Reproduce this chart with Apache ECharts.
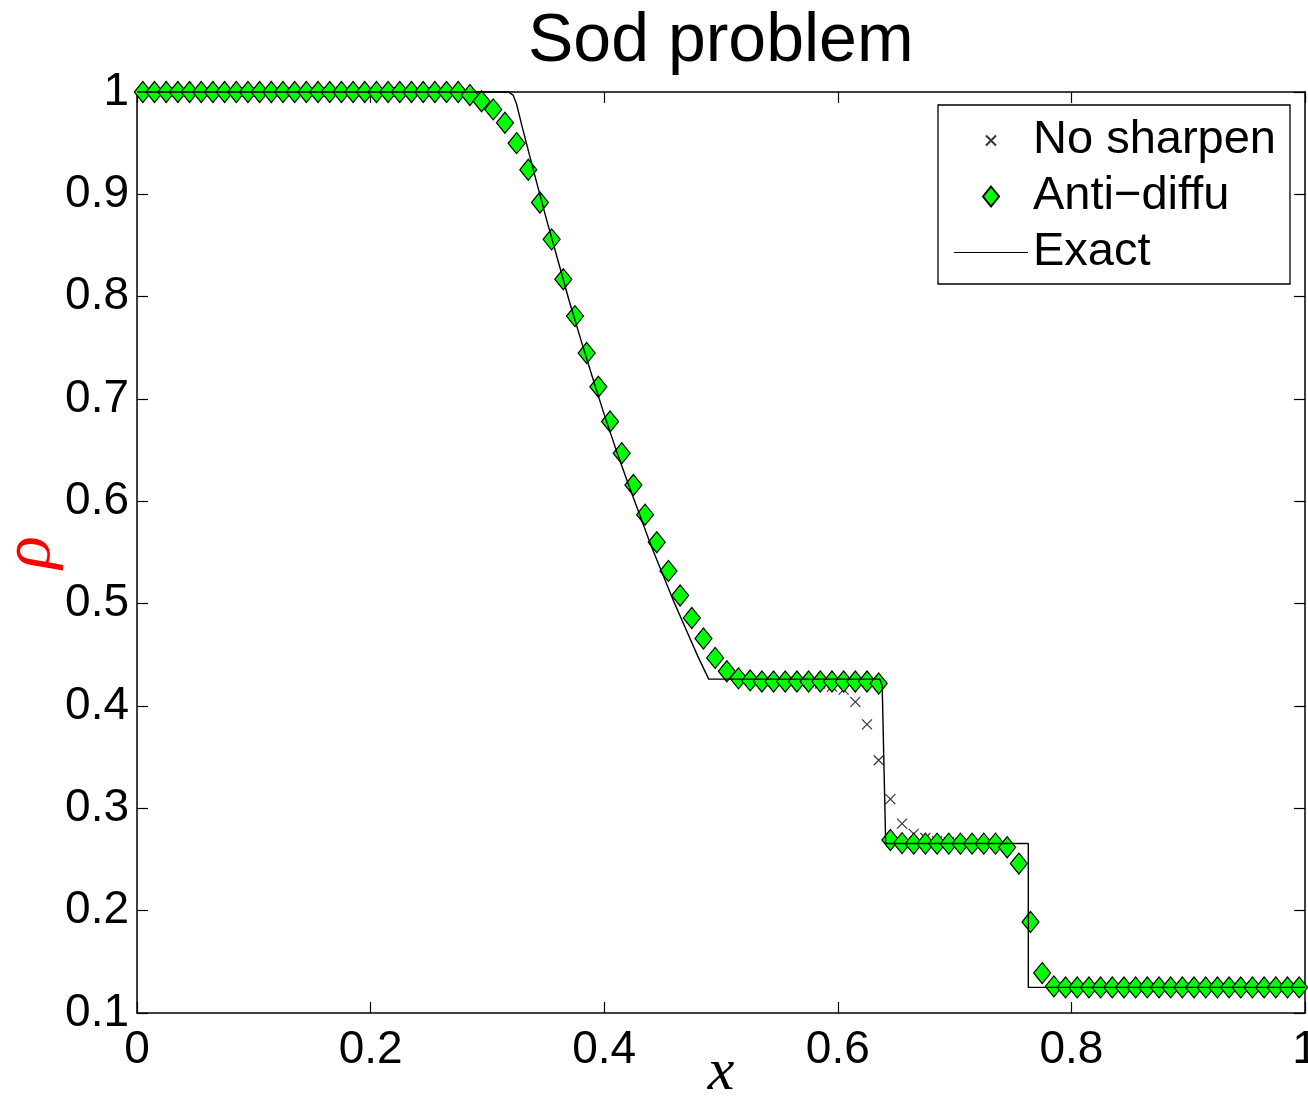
<!DOCTYPE html>
<html>
<head>
<meta charset="utf-8">
<script src="https://cdn.jsdelivr.net/npm/echarts@6/dist/echarts.min.js"></script>
<style>
  html, body { margin: 0; padding: 0; background: #fff; }
  #chart { width: 1308px; height: 1107px; }
</style>
</head>
<body>
<div id="chart"></div>
<script>
/* Sod problem — density profiles */

const FONT = "'Liberation Sans', Arial, Helvetica, sans-serif";

// cell centres
const xCells = [
  0.005, 0.015, 0.025, 0.035, 0.045, 0.055, 0.065, 0.075, 0.085, 0.095,
  0.105, 0.115, 0.125, 0.135, 0.145, 0.155, 0.165, 0.175, 0.185, 0.195,
  0.205, 0.215, 0.225, 0.235, 0.245, 0.255, 0.265, 0.275, 0.285, 0.295,
  0.305, 0.315, 0.325, 0.335, 0.345, 0.355, 0.365, 0.375, 0.385, 0.395,
  0.405, 0.415, 0.425, 0.435, 0.445, 0.455, 0.465, 0.475, 0.485, 0.495,
  0.505, 0.515, 0.525, 0.535, 0.545, 0.555, 0.565, 0.575, 0.585, 0.595,
  0.605, 0.615, 0.625, 0.635, 0.645, 0.655, 0.665, 0.675, 0.685, 0.695,
  0.705, 0.715, 0.725, 0.735, 0.745, 0.755, 0.765, 0.775, 0.785, 0.795,
  0.805, 0.815, 0.825, 0.835, 0.845, 0.855, 0.865, 0.875, 0.885, 0.895,
  0.905, 0.915, 0.925, 0.935, 0.945, 0.955, 0.965, 0.975, 0.985, 0.995
];

const noSharpen = [
  1, 1, 1, 1, 1, 1, 1, 1, 1, 1,
  1, 1, 1, 1, 1, 1, 1, 1, 1, 1,
  1, 1, 1, 1, 1, 1, 1, 1, 0.997, 0.991,
  0.983, 0.970, 0.950, 0.924, 0.892, 0.856, 0.817, 0.781, 0.745, 0.712,
  0.678, 0.647, 0.616, 0.587, 0.560, 0.532, 0.508, 0.486, 0.466, 0.447,
  0.434, 0.427, 0.425, 0.424, 0.424, 0.424, 0.424, 0.4235, 0.422, 0.419,
  0.416, 0.404, 0.382, 0.347, 0.309, 0.285, 0.275, 0.271, 0.268, 0.267,
  0.266, 0.2655, 0.2655, 0.2655, 0.262, 0.246, 0.189, 0.139, 0.126, 0.125,
  0.125, 0.125, 0.125, 0.125, 0.125, 0.125, 0.125, 0.125, 0.125, 0.125,
  0.125, 0.125, 0.125, 0.125, 0.125, 0.125, 0.125, 0.125, 0.125, 0.125
];

const antiDiffu = [
  1, 1, 1, 1, 1, 1, 1, 1, 1, 1,
  1, 1, 1, 1, 1, 1, 1, 1, 1, 1,
  1, 1, 1, 1, 1, 1, 1, 1, 0.997, 0.991,
  0.983, 0.970, 0.950, 0.924, 0.892, 0.856, 0.817, 0.781, 0.745, 0.712,
  0.678, 0.647, 0.616, 0.587, 0.560, 0.532, 0.508, 0.486, 0.466, 0.447,
  0.434, 0.427, 0.425, 0.424, 0.424, 0.424, 0.424, 0.424, 0.424, 0.424,
  0.424, 0.424, 0.424, 0.422, 0.269, 0.266, 0.2655, 0.2655, 0.2655, 0.2655,
  0.2655, 0.2655, 0.2655, 0.2655, 0.262, 0.246, 0.189, 0.139, 0.126, 0.125,
  0.125, 0.125, 0.125, 0.125, 0.125, 0.125, 0.125, 0.125, 0.125, 0.125,
  0.125, 0.125, 0.125, 0.125, 0.125, 0.125, 0.125, 0.125, 0.125, 0.125
];

// exact solution
const exactX = [0, 0.318, 0.322, 0.325, 0.33, 0.34, 0.35, 0.36, 0.37, 0.38, 0.39,
  0.40, 0.41, 0.42, 0.43, 0.44, 0.45, 0.46, 0.47, 0.48, 0.4895,
  0.636, 0.638, 0.641, 0.7631, 0.7631, 1];
const exactRho = [1, 1, 0.997, 0.988, 0.965, 0.921, 0.878, 0.837, 0.796, 0.758, 0.721,
  0.685, 0.651, 0.619, 0.588, 0.557, 0.529, 0.501, 0.475, 0.449, 0.4263,
  0.4263, 0.42, 0.2656, 0.2656, 0.125, 0.125];

const xTicks = { min: 0, max: 1, interval: 0.2 };
const yTicks = { min: 0.1, max: 1, interval: 0.1 };

const seriesNames = ["No sharpen", "Anti\u2212diffu", "Exact"];

const CROSS = "path://M0,0L10,10M10,0L0,10";
const CROSS_ICON = "path://M0,0M74,22M32,6L42,16M42,6L32,16";
const DIAMOND_ICON = "path://M0,0M74,22M37,1L45,11L37,21L29,11Z";
const LINE_ICON = "path://M0,0M74,22M0,10.4L74,10.4L74,11.6L0,11.6Z";

function fmt(v) { return String(+v.toFixed(1)); }

function pairs(xs, ys) { return xs.map((x, i) => [x, ys[i]]); }

const axisLine = { show: true, onZero: false, lineStyle: { color: "#000", width: 1.5 } };
const tick = { show: true, inside: true, length: 11, lineStyle: { color: "#000", width: 1.2 } };
const MATH = "'Liberation Serif', 'DejaVu Serif', serif";

onReady(() => {
  const chart = echarts.init(document.getElementById("chart"), null, { renderer: "canvas" });
  chart.setOption({
    animation: false,
    backgroundColor: "#fff",
    title: {
      text: "Sod problem",
      left: 523, top: 3,
      textStyle: { fontFamily: FONT, fontSize: 68, fontWeight: "normal", color: "#000" }
    },
    grid: { left: 137, top: 92, right: 3, bottom: 94, show: false, containLabel: false, outerBoundsMode: "none" },
    legend: {
      orient: "vertical",
      left: 938, top: 105,
      padding: [12, 14, 8, 15],
      itemWidth: 74, itemHeight: 22, itemGap: 9,
      borderColor: "#000", borderWidth: 1.3, backgroundColor: "#fff",
      selectedMode: false,
      textStyle: { fontFamily: FONT, fontSize: 47, color: "#000" },
      data: [
        { name: seriesNames[0], icon: CROSS_ICON },
        { name: seriesNames[1], icon: DIAMOND_ICON },
        { name: seriesNames[2], icon: LINE_ICON }
      ]
    },
    xAxis: [
      {
        type: "value", position: "bottom", ...xTicks,
        axisLine, axisTick: tick, splitLine: { show: false },
        axisLabel: { fontFamily: FONT, fontSize: 46, color: "#000", margin: 14, formatter: fmt },
        name: "x", nameLocation: "middle", nameGap: 30, nameMoveOverlap: false,
        nameTextStyle: { fontFamily: MATH, fontStyle: "italic", fontSize: 60, color: "#000" }
      },
      {
        type: "value", position: "top", ...xTicks,
        axisLine, axisTick: tick, splitLine: { show: false }, axisLabel: { show: false }
      }
    ],
    yAxis: [
      {
        type: "value", position: "left", ...yTicks,
        axisLine, axisTick: tick, splitLine: { show: false },
        axisLabel: { fontFamily: FONT, fontSize: 46, color: "#000", margin: 8, formatter: fmt },
        name: "\u03c1", nameLocation: "middle", nameRotate: 90, nameGap: 72, nameMoveOverlap: false,
        nameTextStyle: { fontFamily: MATH, fontStyle: "italic", fontSize: 68, color: "#ff0000" }
      },
      {
        type: "value", position: "right", ...yTicks,
        axisLine, axisTick: tick, splitLine: { show: false }, axisLabel: { show: false }
      }
    ],
    series: [
      {
        name: seriesNames[0], type: "scatter", clip: false, z: 2,
        symbol: CROSS, symbolSize: 10,
        itemStyle: { color: "#000", borderColor: "#000", borderWidth: 1.2 },
        data: pairs(xCells, noSharpen)
      },
      {
        name: seriesNames[1], type: "scatter", clip: false, z: 3,
        symbol: "diamond", symbolSize: [17, 21],
        itemStyle: { color: "#00ff00", borderColor: "#000", borderWidth: 1.2, opacity: 1 },
        data: pairs(xCells, antiDiffu)
      },
      {
        name: seriesNames[2], type: "line", clip: false, z: 4,
        symbol: "none", lineStyle: { color: "#000", width: 1.4 },
        itemStyle: { color: "#000" },
        data: pairs(exactX, exactRho)
      }
    ]
  });
});

function onReady(fn) {
  if (document.readyState !== "loading") fn();
  else document.addEventListener("DOMContentLoaded", fn);
}
</script>
</body>
</html>
